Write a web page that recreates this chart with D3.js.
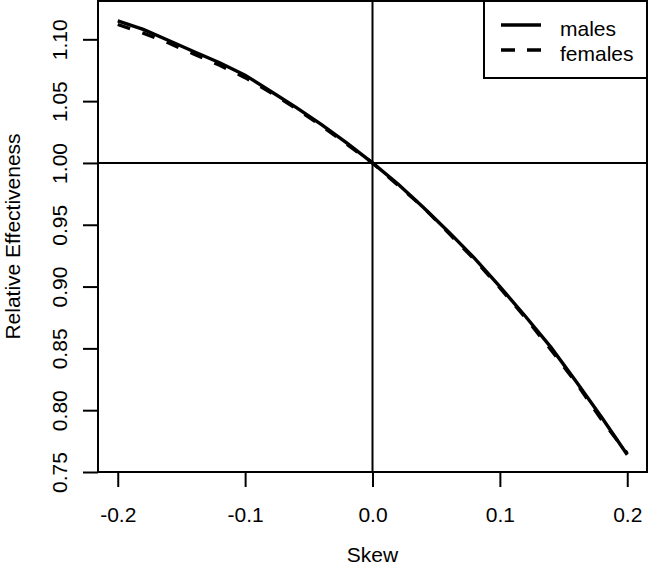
<!DOCTYPE html>
<html>
<head>
<meta charset="utf-8">
<script src="https://cdn.jsdelivr.net/npm/d3@7"></script>
<style>
  body { margin: 0; background: #fff; }
  svg text { font-family: "Liberation Sans", Arial, sans-serif; fill: #000; }
</style>
</head>
<body>
<div id="chart"></div>
<script>
// skew values along the x axis
const skew = [-0.20, -0.18, -0.16, -0.14, -0.12, -0.10, -0.08, -0.06, -0.04, -0.02, 0.00,
              0.02, 0.04, 0.06, 0.08, 0.10, 0.12, 0.14, 0.16, 0.18, 0.20];
// relative effectiveness
const males = [1.115, 1.108, 1.099, 1.090, 1.081, 1.071, 1.058, 1.045, 1.031, 1.016, 1.000,
               0.983, 0.964, 0.944, 0.923, 0.900, 0.876, 0.851, 0.823, 0.794, 0.764];
const females = [1.112, 1.105, 1.097, 1.088, 1.079, 1.069, 1.057, 1.044, 1.030, 1.015, 1.000,
                 0.982, 0.964, 0.943, 0.922, 0.899, 0.875, 0.849, 0.822, 0.792, 0.765];
const xTicks = [-0.2, -0.1, 0.0, 0.1, 0.2];
const yTicks = [0.75, 0.80, 0.85, 0.90, 0.95, 1.00, 1.05, 1.10];
const seriesNames = ["males", "females"];

const W = 650, H = 574;
const box = { left: 98, right: 647, top: 1, bottom: 472 };
const fontSize = 21;

const svg = d3.select("#chart").append("svg")
    .attr("width", W)
    .attr("height", H);

// scales (R style 4% padding around the data)
const x = d3.scaleLinear()
    .domain([-0.2155, 0.2155])
    .range([box.left, box.right]);
const y = d3.scaleLinear()
    .domain([0.75, 1.131])
    .range([box.bottom, box.top]);

// reference lines at 1.00 and 0.0
svg.append("line")
    .attr("x1", box.left).attr("x2", box.right)
    .attr("y1", y(1)).attr("y2", y(1))
    .attr("stroke", "#000").attr("stroke-width", 2);
svg.append("line")
    .attr("x1", x(0)).attr("x2", x(0))
    .attr("y1", box.top).attr("y2", box.bottom)
    .attr("stroke", "#000").attr("stroke-width", 2);

// curves
const line = d3.line()
    .x((d, i) => x(skew[i]))
    .y(d => y(d));

svg.append("path")
    .datum(males)
    .attr("d", line)
    .attr("fill", "none")
    .attr("stroke", "#000")
    .attr("stroke-width", 3.4);

svg.append("path")
    .datum(females)
    .attr("d", line)
    .attr("fill", "none")
    .attr("stroke", "#000")
    .attr("stroke-width", 3.4)
    .attr("stroke-dasharray", "13,13");

// x axis
const xAxis = svg.append("g")
    .attr("transform", `translate(0,${box.bottom})`)
    .call(d3.axisBottom(x).tickValues(xTicks).tickFormat(d => d.toFixed(1)).tickSize(15).tickPadding(20));
xAxis.select(".domain").remove();
xAxis.selectAll("line").attr("stroke-width", 2);
xAxis.selectAll("text").style("font-size", fontSize + "px");

// y axis, labels turned like R's las = 0
const yAxis = svg.append("g")
    .attr("transform", `translate(${box.left},0)`)
    .call(d3.axisLeft(y).tickValues(yTicks).tickFormat(d => d.toFixed(2)).tickSize(15));
yAxis.select(".domain").remove();
yAxis.selectAll("line").attr("stroke-width", 2);
yAxis.selectAll("text")
    .attr("x", null).attr("dy", null)
    .attr("text-anchor", "middle")
    .attr("transform", "translate(-31,0) rotate(-90)")
    .style("font-size", fontSize + "px");

// plot frame
svg.append("rect")
    .attr("x", box.left).attr("y", box.top)
    .attr("width", box.right - box.left).attr("height", box.bottom - box.top)
    .attr("fill", "none").attr("stroke", "#000").attr("stroke-width", 2);

// axis titles
svg.append("text")
    .attr("x", (box.left + box.right) / 2)
    .attr("y", 562)
    .attr("text-anchor", "middle")
    .style("font-size", fontSize + "px")
    .text("Skew");
svg.append("text")
    .attr("transform", `translate(20,${(box.top + box.bottom) / 2}) rotate(-90)`)
    .attr("text-anchor", "middle")
    .style("font-size", fontSize + "px")
    .text("Relative Effectiveness");

// legend
const legend = svg.append("g");
legend.append("rect")
    .attr("x", 484).attr("y", box.top)
    .attr("width", box.right - 484).attr("height", 77)
    .attr("fill", "#fff").attr("stroke", "#000").attr("stroke-width", 2);
seriesNames.forEach((name, i) => {
    const ly = 25 + i * 25;
    legend.append("line")
        .attr("x1", 501).attr("x2", 541)
        .attr("y1", ly).attr("y2", ly)
        .attr("stroke", "#000").attr("stroke-width", 3.4)
        .attr("stroke-dasharray", i === 1 ? "14,12" : null);
    legend.append("text")
        .attr("x", 560).attr("y", ly + 10.5)
        .style("font-size", fontSize + "px")
        .text(name);
});
</script>
</body>
</html>
